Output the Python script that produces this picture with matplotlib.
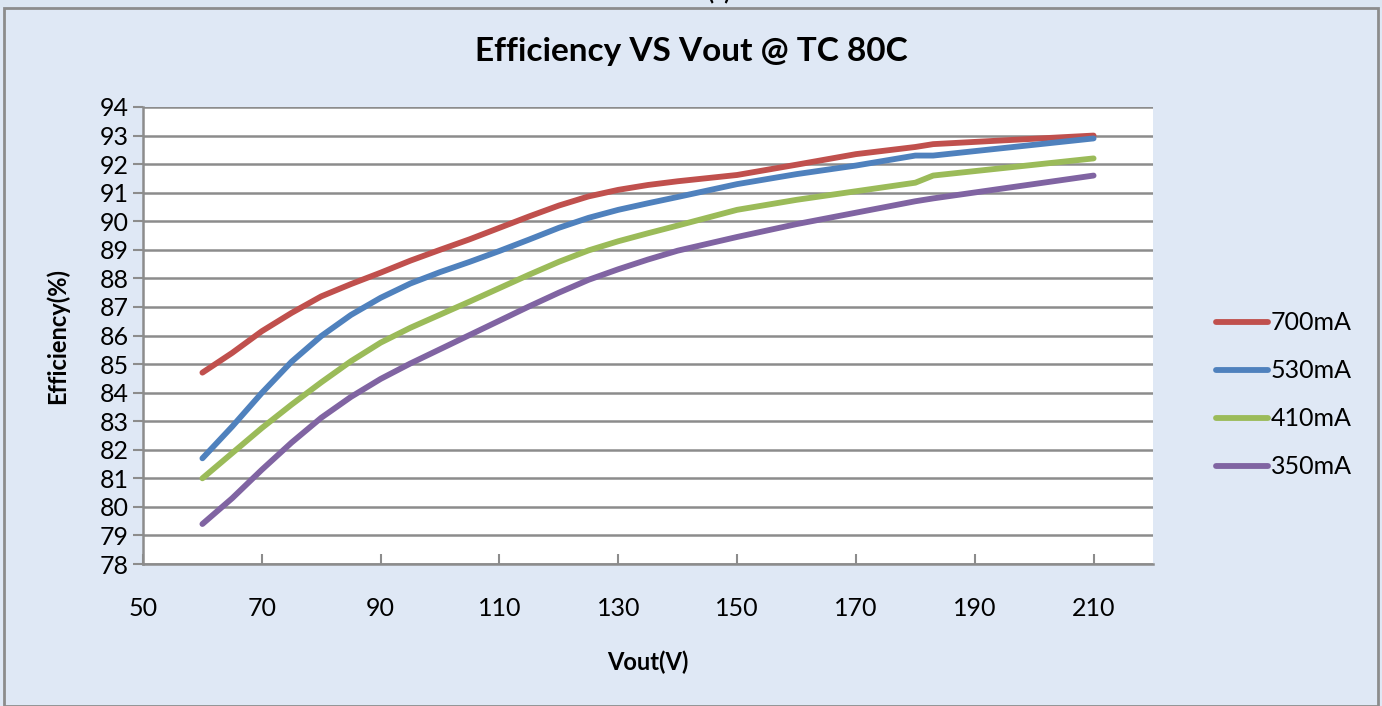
import matplotlib.pyplot as plt
from matplotlib.patches import Rectangle

plt.rcParams['font.family'] = ['Lato', 'DejaVu Sans']

# Data
vout = [60, 65, 70, 75, 80, 85, 90, 95, 100, 105, 110, 115, 120, 125, 130, 135,
        140, 150, 160, 170, 180, 183, 210]
eff_700 = [84.7, 85.39, 86.15, 86.79, 87.37, 87.8, 88.2, 88.62, 89.0, 89.37, 89.77, 90.17,
           90.55, 90.87, 91.1, 91.27, 91.4, 91.62, 91.98, 92.35, 92.6, 92.7, 93.0]
eff_530 = [81.7, 82.81, 83.99, 85.08, 85.98, 86.72, 87.32, 87.82, 88.22, 88.58, 88.96, 89.36,
           89.77, 90.12, 90.4, 90.63, 90.85, 91.3, 91.65, 91.95, 92.3, 92.3, 92.9]
eff_410 = [81.0, 81.88, 82.76, 83.58, 84.36, 85.1, 85.75, 86.27, 86.73, 87.19, 87.66, 88.13,
           88.58, 88.98, 89.3, 89.58, 89.85, 90.4, 90.75, 91.05, 91.35, 91.6, 92.2]
eff_350 = [79.4, 80.3, 81.3, 82.25, 83.12, 83.85, 84.48, 85.02, 85.52, 86.02, 86.52, 87.02,
           87.5, 87.95, 88.32, 88.66, 88.97, 89.45, 89.9, 90.3, 90.7, 90.8, 91.6]
labels = ['700mA', '530mA', '410mA', '350mA']
colors = ['#C0504D', '#4F81BD', '#9BBB59', '#8064A2']
x_ticks = [50, 70, 90, 110, 130, 150, 170, 190, 210]
y_ticks = list(range(78, 95))

fig = plt.figure(figsize=(13.82, 7.06), dpi=100)
fig.patch.set_facecolor('#dfe8f5')

# top strip and outer border
W, H = 1382, 706
fig.patches.append(Rectangle((0, 1 - 8 / H), 1, 8 / H, transform=fig.transFigure,
                             facecolor='#dce6f2', edgecolor='none', zorder=0))
fig.patches.append(Rectangle((4 / W, 0), 1 - 8 / W, 1 - 8 / H, transform=fig.transFigure,
                             facecolor='none', edgecolor='#8c8c8c', linewidth=2, zorder=1))
fig.text(0.52, 1 - 3 / H, '(a)', ha='center', va='bottom', fontsize=16, fontweight='bold')

ax = fig.add_axes([143 / W, 1 - 564 / H, (1153 - 143) / W, (564 - 107) / H])
ax.set_facecolor('white')

for ys, lab, c in zip([eff_700, eff_530, eff_410, eff_350], labels, colors):
    ax.plot(vout, ys, color=c, linewidth=4.2, label=lab,
            solid_capstyle='round', solid_joinstyle='round', zorder=3)

ax.set_xlim(50, 220)
ax.set_ylim(78, 94)
ax.set_xticks(x_ticks)
ax.set_yticks(y_ticks)
ax.yaxis.grid(True, color='#8c8c8c', linewidth=1.8)
ax.set_axisbelow(True)

for s in ['top', 'right']:
    ax.spines[s].set_visible(False)
for s in ['left', 'bottom']:
    ax.spines[s].set_color('#8c8c8c')
    ax.spines[s].set_linewidth(1.8)

ax.tick_params(axis='y', direction='out', length=7, width=1.5, color='#8c8c8c',
               labelsize=18, pad=3)
ax.tick_params(axis='x', direction='in', length=7, width=1.5, color='#8c8c8c',
               labelsize=18, pad=24)

ax.set_xlabel('Vout(V)', fontsize=17, fontweight='bold', labelpad=22)
ax.set_ylabel('Efficiency(%)', fontsize=17, fontweight='bold', labelpad=22)
fig.text(0.5, 1 - 52 / H, 'Efficiency VS Vout @ TC 80C', ha='center', va='center',
         fontsize=24, fontweight='bold')

leg = ax.legend(loc='center left', bbox_to_anchor=(1.04, 0.37), frameon=False,
                fontsize=18, handlelength=2.1, handletextpad=0.1, labelspacing=1.0)

fig.savefig('out.png', dpi=100, facecolor=fig.get_facecolor())
